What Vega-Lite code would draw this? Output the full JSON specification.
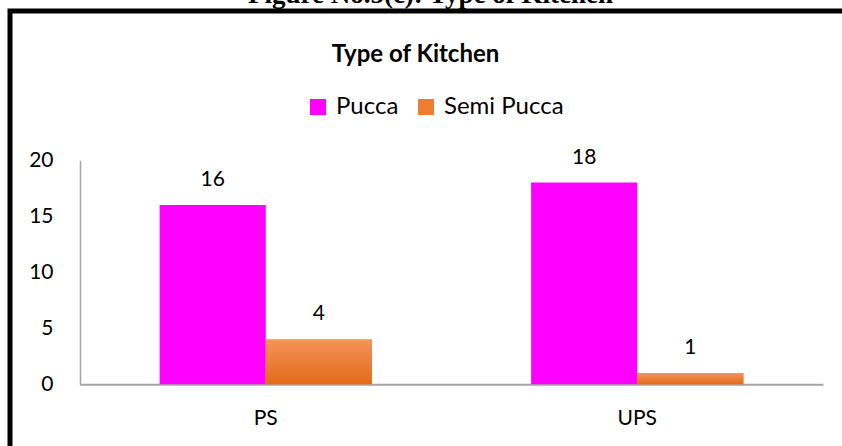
{
  "$schema": "https://vega.github.io/schema/vega-lite/v6.json",
  "autosize": {"type": "none"},
  "width": 836,
  "height": 439,
  "padding": {"left": 10, "top": 11, "right": -4, "bottom": -4},
  "background": "white",
  "config": {"view": {"stroke": "#000000", "strokeWidth": 5}, "font": "Lato"},
  "title": {
    "text": "Figure No.5(c): Type of Kitchen",
    "font": "Liberation Serif",
    "fontSize": 27,
    "fontWeight": "bold",
    "color": "#000000",
    "anchor": "middle",
    "frame": "group",
    "offset": 0,
    "dx": 2.5,
    "dy": 19,
    "baseline": "alphabetic"
  },
  "data": {
    "values": [
      {"school": "PS", "type": "Pucca", "count": 16},
      {"school": "PS", "type": "Semi Pucca", "count": 4},
      {"school": "UPS", "type": "Pucca", "count": 18},
      {"school": "UPS", "type": "Semi Pucca", "count": 1}
    ]
  },
  "encoding": {
    "x": {
      "field": "school", "type": "nominal", "sort": ["PS", "UPS"],
      "scale": {"range": [70, 813], "paddingInner": 0, "paddingOuter": 0},
      "axis": {"title": null, "orient": "bottom", "offset": -65.7, "domainColor": "#A6A6A6", "domainWidth": 2, "ticks": false, "labelAngle": 0, "labelFont": "Lato", "labelFontSize": 21, "labelColor": "#000000", "labelPadding": 23}
    },
    "xOffset": {
      "field": "type", "type": "nominal", "sort": ["Pucca", "Semi Pucca"],
      "scale": {"domain": ["Pucca", "Semi Pucca"], "paddingInner": 0, "paddingOuter": 0.75}
    },
    "y": {
      "field": "count", "type": "quantitative",
      "scale": {"domain": [0, 20], "range": [373.3, 149.2], "nice": false},
      "axis": {"values": [0, 5, 10, 15, 20], "grid": false, "ticks": false, "tickSize": 0, "offset": -70, "domainColor": "#A6A6A6", "domainWidth": 1.5, "labelFont": "Lato", "labelFontSize": 21, "labelColor": "#000000", "labelPadding": 27, "title": "Type of Kitchen", "titleAngle": 0, "titleX": 335, "titleY": 50, "titleAlign": "center", "titleBaseline": "alphabetic", "titleFont": "Lato", "titleFontSize": 24, "titleFontWeight": "bold", "titleColor": "#000000"}
    }
  },
  "layer": [
    {
      "mark": {"type": "bar"},
      "encoding": {
        "color": {
          "field": "type", "type": "nominal",
          "scale": {"domain": ["Pucca", "Semi Pucca"], "range": ["#FF00FF", "#ED7D31"]},
          "legend": {"orient": "none", "legendX": 296, "legendY": 84, "direction": "horizontal", "title": null, "symbolType": "square", "symbolSize": 256, "symbolStrokeWidth": 0, "labelFontSize": 24, "labelFont": "Lato", "labelColor": "#000000", "columnPadding": 15, "labelOffset": 6, "padding": 0, "symbolOpacity": 1}
        }
      }
    },
    {
      "transform": [{"filter": "datum.type === 'Semi Pucca'"}],
      "mark": {
        "type": "bar",
        "fill": {"gradient": "linear", "x1": 0, "y1": 0, "x2": 0, "y2": 1, "stops": [{"offset": 0, "color": "#F4935A"}, {"offset": 1, "color": "#E46A18"}]}
      }
    },
    {
      "mark": {"type": "text", "dy": -19, "baseline": "alphabetic", "fontSize": 21, "font": "Lato", "color": "#000000"},
      "encoding": {"text": {"field": "count", "type": "quantitative"}}
    }
  ]
}
